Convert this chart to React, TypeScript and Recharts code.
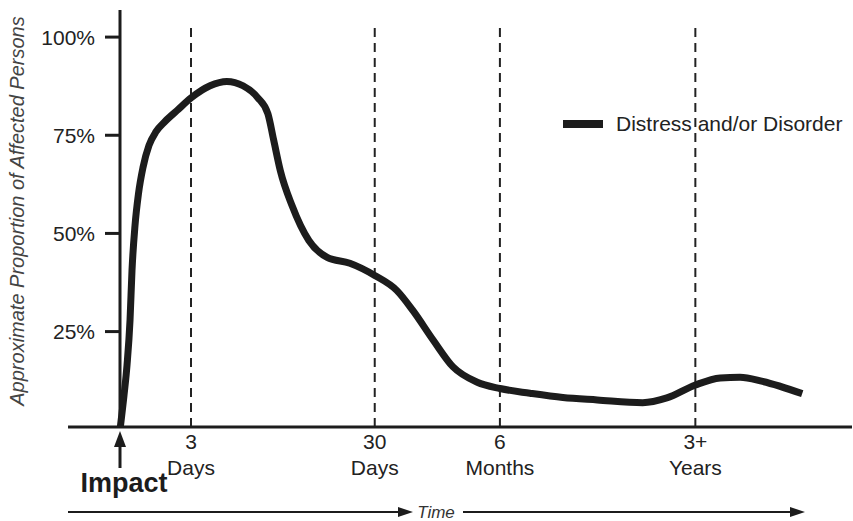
import React from 'react';
import {
  LineChart,
  Line,
  XAxis,
  YAxis,
  ReferenceLine,
  Legend,
  Customized,
} from 'recharts';

// time runs on an abstract 0..100 scale, impact at 0
const TIME = [
  0, 0.55, 0.96, 1.37, 1.64, 2.05, 2.53, 3.14, 3.96, 4.92, 6.15, 7.79, 9.77, 12.3, 14.6, 16.8,
  18.8, 20.2, 21.0, 21.9, 23.5, 25.8, 28.3, 31.4, 34.8, 37.8, 40.0, 42.8, 45.5, 48.8, 51.9, 56.0,
  60.5, 65.2, 71.4, 74.7, 78.6, 82.0, 84.7, 87.8, 93.2,
];
const DISTRESS = [
  0, 8.8, 16.5, 27.9, 40.6, 52.0, 60.2, 66.8, 72.4, 75.9, 78.5, 81.3, 84.6, 87.6, 88.7, 87.6,
  84.6, 80.5, 73.7, 66.0, 57.1, 48.2, 43.9, 42.4, 39.3, 35.5, 30.4, 22.8, 16.0, 12.1, 10.5, 9.3,
  8.2, 7.6, 6.9, 8.1, 11.4, 13.2, 13.4, 12.3, 9.2,
];
const MILESTONES = [9.7, 34.8, 51.9, 78.6];
const MILESTONE_TOP = ['3', '30', '6', '3+'];
const MILESTONE_BOTTOM = ['Days', 'Days', 'Months', 'Years'];
const Y_TICKS = [25, 50, 75, 100];
const SERIES_NAME = 'Distress and/or Disorder';

const FONT = '"Liberation Sans", Arial, Helvetica, sans-serif';
const INK = '#1c1c1c';

const data = TIME.map((t, i) => ({ t, distress: DISTRESS[i] }));

function TimeTick(props: any) {
  const { x, payload } = props;
  const i = MILESTONES.indexOf(payload.value);
  return (
    <text textAnchor="middle" fontSize={21} fill="#222" fontFamily={FONT}>
      <tspan x={x} y={449}>{MILESTONE_TOP[i]}</tspan>
      <tspan x={x} y={475}>{MILESTONE_BOTTOM[i]}</tspan>
    </text>
  );
}

function Annotations() {
  return (
    <g fontFamily={FONT}>
      <text
        x={17}
        y={211}
        transform="rotate(-90, 17, 211)"
        textAnchor="middle"
        dominantBaseline="central"
        fontStyle="italic"
        fontSize={20}
        fill="#444"
      >
        Approximate Proportion of Affected Persons
      </text>
      <polygon points="120,431 114,447 126,447" fill={INK} />
      <line x1={120} y1={445} x2={120} y2={468} stroke={INK} strokeWidth={3} />
      <text x={124} y={492} textAnchor="middle" fontSize={27} fontWeight="bold" fill={INK}>
        Impact
      </text>
      <line x1={68} y1={512} x2={402} y2={512} stroke={INK} strokeWidth={2} />
      <polygon points="413,512 398,507 398,517" fill={INK} />
      <text
        x={436}
        y={512}
        textAnchor="middle"
        dominantBaseline="central"
        fontStyle="italic"
        fontSize={17}
        fill="#333"
      >
        Time
      </text>
      <line x1={463} y1={512} x2={795} y2={512} stroke={INK} strokeWidth={2} />
      <polygon points="805,512 790,507 790,517" fill={INK} />
    </g>
  );
}

function LegendBox() {
  return (
    <div style={{ display: 'flex', alignItems: 'center', fontFamily: FONT, fontSize: 21, color: '#222', lineHeight: '24px' }}>
      <span style={{ display: 'inline-block', width: 40, height: 8, background: INK, marginRight: 13 }} />
      <span>{SERIES_NAME}</span>
    </div>
  );
}

export default function App() {
  return (
    <div style={{ position: 'absolute', left: 0, top: 0, background: '#fff' }}>
      <LineChart
        width={853}
        height={521}
        data={data}
        margin={{ top: 10, right: 1, left: 20, bottom: 34 }}
      >
        <XAxis
          dataKey="t"
          type="number"
          domain={[0, 100]}
          ticks={MILESTONES}
          tick={<TimeTick />}
          tickLine={false}
          axisLine={false}
          tickSize={0}
          tickMargin={0}
          height={60}
          interval={0}
        />
        <YAxis
          type="number"
          domain={[0.7, 106.9]}
          allowDataOverflow
          ticks={Y_TICKS}
          tickFormatter={(v: number) => `${v}%`}
          width={100}
          tickSize={15}
          tickMargin={10}
          tick={{ fontSize: 21, fill: '#222', fontFamily: FONT }}
          tickLine={{ stroke: INK, strokeWidth: 3 }}
          axisLine={{ stroke: INK, strokeWidth: 3 }}
        />
        {MILESTONES.map((m) => (
          <ReferenceLine
            key={m}
            segment={[{ x: m, y: 0.7 }, { x: m, y: 103.2 }]}
            stroke="#222"
            strokeWidth={2}
            strokeDasharray="9 6"
          />
        ))}
        <ReferenceLine
          segment={[{ x: -7.1, y: 0.7 }, { x: 100, y: 0.7 }]}
          ifOverflow="visible"
          stroke={INK}
          strokeWidth={3}
        />
        <Legend
          layout="horizontal"
          verticalAlign="middle"
          align="center"
          content={<LegendBox />}
          wrapperStyle={{ top: 112, left: 563, width: 'auto' }}
        />
        <Line
          type="monotone"
          dataKey="distress"
          name={SERIES_NAME}
          stroke={INK}
          strokeWidth={7}
          dot={false}
          activeDot={false}
          isAnimationActive={false}
        />
        <Customized component={Annotations} />
      </LineChart>
    </div>
  );
}
